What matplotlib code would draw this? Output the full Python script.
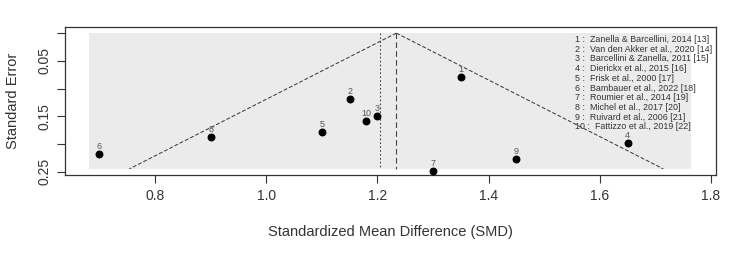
import numpy as np
import matplotlib.pyplot as plt
from matplotlib.patches import Rectangle

plt.rcParams['font.family'] = ['Liberation Sans', 'DejaVu Sans']

study_ids = [1, 2, 3, 4, 5, 6, 7, 8, 9, 10]
smd = [1.35, 1.15, 1.20, 1.65, 1.10, 0.70, 1.30, 0.90, 1.45, 1.18]
se = [0.079, 0.119, 0.150, 0.198, 0.178, 0.218, 0.249, 0.187, 0.227, 0.159]
studies = ['Zanella & Barcellini, 2014 [13]',
           'Van den Akker et al., 2020 [14]',
           'Barcellini & Zanella, 2011 [15]',
           'Dierickx et al., 2015 [16]',
           'Frisk et al., 2000 [17]',
           'Bambauer et al., 2022 [18]',
           'Roumier et al., 2014 [19]',
           'Michel et al., 2017 [20]',
           'Ruivard et al., 2006 [21]',
           'Fattizzo et al., 2019 [22]']
pooled = 1.234
mean_smd = 1.205
se_max = 0.245

fig = plt.figure(figsize=(7.5, 2.58), dpi=100)
ax = fig.add_axes([65/750, 1-175/258, (716-65)/750, (175-27)/258])

ax.set_xlim(0.638, 1.809)
ax.set_ylim(0.256, -0.011)

ax.add_patch(Rectangle((0.681, 0), 1.764-0.681, se_max, facecolor='#ebebeb',
                       edgecolor='none', zorder=0))

s = np.array([0, se_max])
ax.plot(pooled - 1.96*s, s, ls=(0, (4, 2)), color='#333333', lw=0.7)
ax.plot(pooled + 1.96*s, s, ls=(0, (4, 2)), color='#333333', lw=0.7)
ax.plot([pooled, pooled], [0, se_max], ls=(0, (5, 3)), color='#444444', lw=0.8)
ax.plot([mean_smd, mean_smd], [0, se_max], ls=(0, (1.5, 2)), color='#444444', lw=0.8)

ax.scatter(smd, se, s=22, color='black', zorder=3)
for i, x, y in zip(study_ids, smd, se):
    ax.text(x, y - 0.005, str(i), ha='center', va='bottom', fontsize=6.5, color='#555555')

for k, name in enumerate(studies):
    ax.text(0.783, 0.915 - k*0.0655, f'{study_ids[k]} :  {name}', transform=ax.transAxes,
            fontsize=6.4, color='#333333', va='center', ha='left')

ax.set_xticks([0.8, 1.0, 1.2, 1.4, 1.6, 1.8])
ax.set_xticklabels(['0.8', '1.0', '1.2', '1.4', '1.6', '1.8'])
ax.set_yticks([0, 0.05, 0.10, 0.15, 0.20, 0.25])
ax.set_yticklabels(['', '0.05', '', '0.15', '', '0.25'], rotation=90, va='center')
ax.tick_params(direction='out', length=6, color='#333333', labelsize=10, labelcolor='#333333', pad=4)
for sp in ax.spines.values():
    sp.set_color('#333333')
    sp.set_linewidth(0.9)

ax.set_xlabel('Standardized Mean Difference (SMD)', fontsize=10.5, color='#333333', labelpad=16)
ax.set_ylabel('Standard Error', fontsize=10.5, color='#333333', labelpad=12)

fig.savefig('out.png', dpi=100)
